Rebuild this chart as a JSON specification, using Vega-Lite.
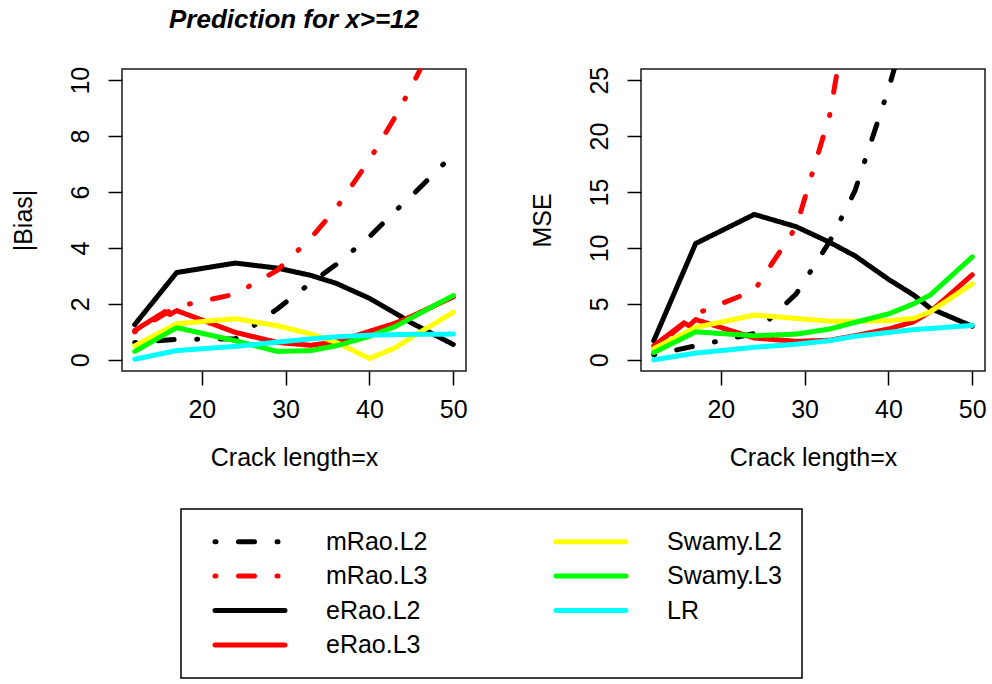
{
  "$schema": "https://vega.github.io/schema/vega-lite/v6.json",
  "background": "white",
  "padding": {"left": 10, "top": 6, "right": 0, "bottom": 0},
  "bounds": "flush",
  "spacing": 175,
  "data": {
    "values": [
      {"method": "eRao.L2", "x": 12, "bias": 1.26, "mse": 1.7},
      {"method": "eRao.L2", "x": 17, "bias": 3.12, "mse": 10.4},
      {"method": "eRao.L2", "x": 24, "bias": 3.46, "mse": 13.0},
      {"method": "eRao.L2", "x": 29, "bias": 3.28, "mse": 11.9},
      {"method": "eRao.L2", "x": 33, "bias": 3.02, "mse": 10.5},
      {"method": "eRao.L2", "x": 36, "bias": 2.74, "mse": 9.3},
      {"method": "eRao.L2", "x": 40, "bias": 2.2, "mse": 7.2},
      {"method": "eRao.L2", "x": 43, "bias": 1.68, "mse": 5.8},
      {"method": "eRao.L2", "x": 45, "bias": 1.32, "mse": 4.6},
      {"method": "eRao.L2", "x": 50, "bias": 0.55, "mse": 3.0},

      {"method": "eRao.L3", "x": 12, "bias": 1.05, "mse": 1.25},
      {"method": "eRao.L3", "x": 15.6, "bias": 1.72, "mse": 3.3},
      {"method": "eRao.L3", "x": 16.2, "bias": 1.62, "mse": 3.05},
      {"method": "eRao.L3", "x": 17, "bias": 1.76, "mse": 3.6},
      {"method": "eRao.L3", "x": 24, "bias": 0.98, "mse": 1.95},
      {"method": "eRao.L3", "x": 29, "bias": 0.62, "mse": 1.65},
      {"method": "eRao.L3", "x": 33, "bias": 0.52, "mse": 1.75},
      {"method": "eRao.L3", "x": 36, "bias": 0.64, "mse": 2.15},
      {"method": "eRao.L3", "x": 40, "bias": 1.02, "mse": 2.75},
      {"method": "eRao.L3", "x": 43, "bias": 1.3, "mse": 3.4},
      {"method": "eRao.L3", "x": 45, "bias": 1.55, "mse": 4.3},
      {"method": "eRao.L3", "x": 50, "bias": 2.25, "mse": 7.6},

      {"method": "mRao.L2", "x": 12, "bias": 0.62, "mse": 0.45},
      {"method": "mRao.L2", "x": 17, "bias": 0.73, "mse": 1.25},
      {"method": "mRao.L2", "x": 24, "bias": 0.75, "mse": 2.35},
      {"method": "mRao.L2", "x": 29, "bias": 1.82, "mse": 5.9},
      {"method": "mRao.L2", "x": 33, "bias": 2.75, "mse": 10.6},
      {"method": "mRao.L2", "x": 36, "bias": 3.4, "mse": 15.1},
      {"method": "mRao.L2", "x": 40, "bias": 4.4, "mse": 24.2},
      {"method": "mRao.L2", "x": 43, "bias": 5.3, "mse": 32},
      {"method": "mRao.L2", "x": 45, "bias": 5.85, "mse": 38},
      {"method": "mRao.L2", "x": 50, "bias": 7.35, "mse": 55},

      {"method": "mRao.L3", "x": 12, "bias": 1.0, "mse": 1.0},
      {"method": "mRao.L3", "x": 17, "bias": 1.9, "mse": 4.1},
      {"method": "mRao.L3", "x": 24, "bias": 2.35, "mse": 6.2},
      {"method": "mRao.L3", "x": 29, "bias": 3.2, "mse": 11.9},
      {"method": "mRao.L3", "x": 33, "bias": 4.35, "mse": 21.9},
      {"method": "mRao.L3", "x": 36, "bias": 5.4, "mse": 35},
      {"method": "mRao.L3", "x": 40, "bias": 7.15, "mse": 55},
      {"method": "mRao.L3", "x": 43, "bias": 8.65, "mse": 75},
      {"method": "mRao.L3", "x": 45, "bias": 9.75, "mse": 90},
      {"method": "mRao.L3", "x": 50, "bias": 12.75, "mse": 130},

      {"method": "Swamy.L2", "x": 12, "bias": 0.5, "mse": 1.0},
      {"method": "Swamy.L2", "x": 17, "bias": 1.29, "mse": 2.9},
      {"method": "Swamy.L2", "x": 24, "bias": 1.47, "mse": 4.0},
      {"method": "Swamy.L2", "x": 29, "bias": 1.22, "mse": 3.7},
      {"method": "Swamy.L2", "x": 33, "bias": 0.92, "mse": 3.45},
      {"method": "Swamy.L2", "x": 36, "bias": 0.63, "mse": 3.45},
      {"method": "Swamy.L2", "x": 40, "bias": 0.05, "mse": 3.5},
      {"method": "Swamy.L2", "x": 43, "bias": 0.42, "mse": 3.7},
      {"method": "Swamy.L2", "x": 45, "bias": 0.8, "mse": 4.3},
      {"method": "Swamy.L2", "x": 50, "bias": 1.7, "mse": 6.8},

      {"method": "Swamy.L3", "x": 12, "bias": 0.3, "mse": 0.65},
      {"method": "Swamy.L3", "x": 17, "bias": 1.15, "mse": 2.5},
      {"method": "Swamy.L3", "x": 24, "bias": 0.68, "mse": 2.15},
      {"method": "Swamy.L3", "x": 29, "bias": 0.3, "mse": 2.3},
      {"method": "Swamy.L3", "x": 33, "bias": 0.33, "mse": 2.75},
      {"method": "Swamy.L3", "x": 36, "bias": 0.5, "mse": 3.35},
      {"method": "Swamy.L3", "x": 40, "bias": 0.84, "mse": 4.1},
      {"method": "Swamy.L3", "x": 43, "bias": 1.18, "mse": 5.0},
      {"method": "Swamy.L3", "x": 45, "bias": 1.5, "mse": 5.8},
      {"method": "Swamy.L3", "x": 50, "bias": 2.3, "mse": 9.2},

      {"method": "LR", "x": 12, "bias": 0.02, "mse": 0.0},
      {"method": "LR", "x": 17, "bias": 0.33, "mse": 0.6},
      {"method": "LR", "x": 24, "bias": 0.48, "mse": 1.12},
      {"method": "LR", "x": 29, "bias": 0.63, "mse": 1.4},
      {"method": "LR", "x": 33, "bias": 0.75, "mse": 1.72},
      {"method": "LR", "x": 36, "bias": 0.82, "mse": 2.1},
      {"method": "LR", "x": 40, "bias": 0.88, "mse": 2.45},
      {"method": "LR", "x": 43, "bias": 0.9, "mse": 2.7},
      {"method": "LR", "x": 45, "bias": 0.91, "mse": 2.8},
      {"method": "LR", "x": 50, "bias": 0.92, "mse": 3.08}
    ]
  },
  "config": {
    "font": "Liberation Sans",
    "view": {"stroke": "#1a1a1a", "strokeWidth": 1.5},
    "axis": {
      "grid": false,
      "domain": false,
      "ticks": true,
      "tickColor": "black",
      "tickWidth": 1.5,
      "tickSize": 14,
      "labelFont": "Liberation Sans",
      "labelFontSize": 25,
      "labelColor": "black",
      "labelFlush": false,
      "labelOverlap": false,
      "titleFont": "Liberation Sans",
      "titleFontSize": 25,
      "titleFontWeight": "normal",
      "titleColor": "black"
    },
    "axisX": {"labelPadding": 12, "titleY": 86, "titleBaseline": "middle"},
    "axisY": {
      "labelAngle": -90,
      "labelAlign": "center",
      "labelBaseline": "alphabetic",
      "labelPadding": 20,
      "titleAngle": -90,
      "titleX": -99,
      "titleY": 151,
      "titleAlign": "center",
      "titleBaseline": "middle"
    },
    "legend": {
      "orient": "none",
      "legendX": 59,
      "legendY": 440,
      "columns": 2,
      "direction": "vertical",
      "symbolType": "M-3.5,0H3.5",
      "symbolSize": 400,
      "symbolStrokeWidth": 5,
      "symbolOffset": 36.5,
      "labelFont": "Liberation Sans",
      "labelFontSize": 25,
      "labelColor": "black",
      "labelOffset": 63.5,
      "columnPadding": 114,
      "rowPadding": 8.5,
      "padding": 20,
      "strokeColor": "black"
    }
  },
  "resolve": {
    "scale": {"color": "independent", "strokeDash": "independent"},
    "legend": {"color": "independent", "strokeDash": "independent"}
  },
  "hconcat": [
    {
      "width": 344,
      "height": 302,
      "title": {
        "text": "Prediction for x>=12",
        "anchor": "middle",
        "font": "Liberation Sans",
        "fontSize": 26,
        "fontStyle": "italic",
        "fontWeight": "bold",
        "color": "black",
        "baseline": "alphabetic",
        "offset": 12
      },
      "mark": {"type": "line", "strokeWidth": 5, "strokeCap": "round", "strokeJoin": "round", "clip": true},
      "encoding": {
        "x": {
          "field": "x", "type": "quantitative",
          "scale": {"domain": [10.48, 51.52], "nice": false, "zero": false},
          "axis": {"title": "Crack length=x", "values": [20, 30, 40, 50]}
        },
        "y": {
          "field": "bias", "type": "quantitative",
          "scale": {"domain": [-0.4, 10.4], "nice": false, "zero": false},
          "axis": {"title": "|Bias|", "values": [0, 2, 4, 6, 8, 10]}
        },
        "color": {
          "field": "method", "type": "nominal",
          "scale": {
            "domain": ["mRao.L2", "mRao.L3", "eRao.L2", "eRao.L3", "Swamy.L2", "Swamy.L3", "LR"],
            "range": ["black", "#ff0000", "black", "#ff0000", "#ffff00", "#00ff00", "#00ffff"]
          },
          "legend": {
            "title": null,
            "encode": {
              "symbols": {"update": {"strokeCap": {"value": "round"}}},
              "legend": {"update": {"strokeWidth": {"value": 1.5}}}
            }
          }
        },
        "strokeDash": {
          "field": "method", "type": "nominal",
          "scale": {
            "domain": ["mRao.L2", "mRao.L3", "eRao.L2", "eRao.L3", "Swamy.L2", "Swamy.L3", "LR"],
            "range": [[1, 22.5, 16, 22.5], [1, 22.5, 16, 22.5], [1, 0], [1, 0], [1, 0], [1, 0], [1, 0]]
          },
          "legend": {
            "title": null,
            "encode": {
              "symbols": {"update": {"strokeCap": {"value": "round"}}},
              "legend": {"update": {"strokeWidth": {"value": 1.5}}}
            }
          }
        }
      }
    },
    {
      "width": 344,
      "height": 302,
      "mark": {"type": "line", "strokeWidth": 5, "strokeCap": "round", "strokeJoin": "round", "clip": true},
      "encoding": {
        "x": {
          "field": "x", "type": "quantitative",
          "scale": {"domain": [10.48, 51.52], "nice": false, "zero": false},
          "axis": {"title": "Crack length=x", "values": [20, 30, 40, 50]}
        },
        "y": {
          "field": "mse", "type": "quantitative",
          "scale": {"domain": [-1, 26], "nice": false, "zero": false},
          "axis": {"title": "MSE", "values": [0, 5, 10, 15, 20, 25]}
        },
        "color": {
          "field": "method", "type": "nominal",
          "scale": {
            "domain": ["mRao.L2", "mRao.L3", "eRao.L2", "eRao.L3", "Swamy.L2", "Swamy.L3", "LR"],
            "range": ["black", "#ff0000", "black", "#ff0000", "#ffff00", "#00ff00", "#00ffff"]
          },
          "legend": null
        },
        "strokeDash": {
          "field": "method", "type": "nominal",
          "scale": {
            "domain": ["mRao.L2", "mRao.L3", "eRao.L2", "eRao.L3", "Swamy.L2", "Swamy.L3", "LR"],
            "range": [[1, 22.5, 16, 22.5], [1, 22.5, 16, 22.5], [1, 0], [1, 0], [1, 0], [1, 0], [1, 0]]
          },
          "legend": null
        }
      }
    }
  ]
}
